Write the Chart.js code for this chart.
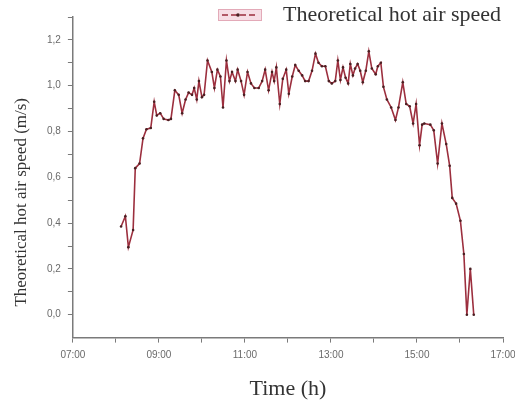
<html>
<head>
  <script src="https://cdn.jsdelivr.net/npm/chart.js@4.4.0/dist/chart.umd.min.js"></script>
  <style>
    body { margin: 0; background: #fff; }
  </style>
</head>
<body>
  <canvas id="airChart" width="515" height="405"></canvas>
  <script>
    // measurement times, decimal hours
    const hours = [
      8.12, 8.22, 8.29, 8.40, 8.45, 8.55, 8.63, 8.71, 8.81, 8.89,
      8.95, 9.03, 9.11, 9.22, 9.28, 9.37, 9.46, 9.54, 9.62, 9.69,
      9.77, 9.82, 9.88, 9.93, 10.00, 10.05, 10.13, 10.23, 10.29, 10.36,
      10.43, 10.49, 10.57, 10.64, 10.70, 10.78, 10.83, 10.91, 10.98, 11.06,
      11.14, 11.22, 11.32, 11.40, 11.47, 11.55, 11.63, 11.68, 11.73, 11.81,
      11.88, 11.96, 12.02, 12.10, 12.17, 12.25, 12.33, 12.40, 12.48, 12.56,
      12.64, 12.71, 12.79, 12.87, 12.95, 13.02, 13.10, 13.16, 13.22, 13.28,
      13.34, 13.40, 13.45, 13.51, 13.56, 13.62, 13.68, 13.74, 13.81, 13.88,
      13.95, 14.04, 14.09, 14.16, 14.22, 14.30, 14.40, 14.50, 14.57, 14.67,
      14.75, 14.83, 14.91, 14.98, 15.06, 15.12, 15.17, 15.31, 15.39, 15.48,
      15.58, 15.68, 15.76, 15.82, 15.91, 16.01, 16.09, 16.16, 16.24, 16.32
    ];
    // theoretical hot air speed, m/s
    const speeds = [
      0.385, 0.43, 0.295, 0.37, 0.64, 0.66, 0.77, 0.81, 0.815, 0.93,
      0.87, 0.88, 0.855, 0.85, 0.855, 0.98, 0.96, 0.88, 0.94, 0.97,
      0.96, 0.99, 0.94, 1.02, 0.95, 0.96, 1.11, 1.06, 0.99, 1.07,
      1.04, 0.905, 1.11, 1.02, 1.06, 1.02, 1.07, 1.02, 0.96, 1.06,
      1.01, 0.99, 0.99, 1.02, 1.07, 0.98, 1.06, 1.02, 1.08, 0.92,
      1.03, 1.07, 0.965, 1.04, 1.09, 1.065, 1.045, 1.02, 1.02, 1.065,
      1.14, 1.10, 1.085, 1.085, 1.02, 1.01, 1.02, 1.11, 1.025, 1.08,
      1.035, 1.01, 1.095, 1.045, 1.075, 1.095, 1.065, 1.015, 1.065, 1.15,
      1.075, 1.05, 1.085, 1.10, 0.995, 0.94, 0.905, 0.85, 0.905, 1.015,
      0.92, 0.91, 0.835, 0.92, 0.74, 0.83, 0.835, 0.83, 0.805, 0.66,
      0.835, 0.745, 0.65, 0.51, 0.485, 0.41, 0.265, 0.0, 0.2, 0.0
    ];
    const xLabelHours = [7, 9, 11, 13, 15, 17];
    const yLabelValues = [0, 0.2, 0.4, 0.6, 0.8, 1.0, 1.2];

    const points = hours.map((h, i) => ({ x: h, y: speeds[i] }));
    const serif = "'Liberation Serif', 'DejaVu Serif', serif";
    const sans = "'Liberation Sans', Arial, sans-serif";
    const lineColor = "#9c2f3e";

    // y axis title (a bit below the middle of the axis) and the legend
    // sitting over the top of the plot
    const decorations = {
      id: "decorations",
      afterDraw(chart) {
        const { ctx, chartArea } = chart;
        ctx.save();
        ctx.translate(22, (chartArea.top + chartArea.bottom) / 2 + 25);
        ctx.rotate(-Math.PI / 2);
        ctx.font = "17px " + serif;
        ctx.fillStyle = "#333";
        ctx.textAlign = "center";
        ctx.textBaseline = "middle";
        ctx.fillText("Theoretical hot air speed (m/s)", 0, 0);
        ctx.restore();

        // legend swatch
        const bx = 218, by = 9, bw = 44, bh = 12;
        ctx.save();
        ctx.fillStyle = "rgba(244,214,222,0.8)";
        ctx.fillRect(bx, by, bw, bh);
        ctx.strokeStyle = "#e3aab8";
        ctx.lineWidth = 1;
        ctx.strokeRect(bx + 0.5, by + 0.5, bw - 1, bh - 1);
        ctx.strokeStyle = lineColor;
        ctx.lineWidth = 1.6;
        ctx.setLineDash([6, 3]);
        ctx.beginPath();
        ctx.moveTo(bx + 4, by + bh / 2);
        ctx.lineTo(bx + bw - 4, by + bh / 2);
        ctx.stroke();
        ctx.fillStyle = "#4a1f22";
        ctx.beginPath();
        ctx.arc(bx + bw / 2 - 2, by + bh / 2, 1.8, 0, Math.PI * 2);
        ctx.fill();
        ctx.font = "22px " + serif;
        ctx.fillStyle = "#333";
        ctx.textAlign = "left";
        ctx.textBaseline = "middle";
        ctx.fillText(chart.data.datasets[0].label, 283, 15);
        ctx.restore();
      },
    };

    new Chart(document.getElementById("airChart"), {
      type: "line",
      data: {
        datasets: [
          {
            label: "Theoretical hot air speed",
            data: points,
            borderColor: lineColor,
            backgroundColor: "rgba(240,205,215,0.6)",
            borderWidth: 1.6,
            pointRadius: 1.3,
            pointBorderWidth: 0,
            pointBackgroundColor: "#4a1f22",
            tension: 0,
          },
        ],
      },
      plugins: [decorations],
      options: {
        responsive: false,
        animation: false,
        devicePixelRatio: 1,
        layout: { padding: { left: 40, right: 0, top: 17, bottom: 3 } },
        plugins: {
          tooltip: { enabled: false },
          legend: { display: false },
        },
        scales: {
          x: {
            type: "linear",
            min: 7,
            max: 17,
            // let the last hour label run off the right edge
            afterFit: (scale) => {
              scale.paddingRight = 12;
            },
            border: { color: "#7a7a7a", width: 1.5 },
            grid: {
              drawOnChartArea: false,
              tickLength: 5,
              tickColor: "#7a7a7a",
            },
            ticks: {
              stepSize: 1,
              autoSkip: false,
              maxRotation: 0,
              padding: 7,
              color: "#6a6a6a",
              font: { family: sans, size: 10 },
              callback: (v) =>
                xLabelHours.includes(v) ? String(v).padStart(2, "0") + ":00" : "",
            },
            title: {
              display: true,
              text: "Time (h)",
              color: "#333",
              font: { family: serif, size: 22 },
              padding: { top: 7, bottom: 0 },
            },
          },
          y: {
            min: -0.1,
            max: 1.3,
            border: { color: "#7a7a7a", width: 1.5 },
            grid: {
              drawOnChartArea: false,
              tickLength: 5,
              tickColor: (ctx) =>
                ctx.tick && Math.abs(ctx.tick.value + 0.1) < 1e-6 ? "rgba(0,0,0,0)" : "#7a7a7a",
            },
            ticks: {
              stepSize: 0.1,
              autoSkip: false,
              padding: 7,
              color: "#6a6a6a",
              font: { family: sans, size: 10 },
              callback: (v) => {
                const hit = yLabelValues.find((t) => Math.abs(t - v) < 1e-6);
                return hit === undefined ? "" : hit.toFixed(1).replace(".", ",");
              },
            },
          },
        },
      },
    });
  </script>
</body>
</html>
